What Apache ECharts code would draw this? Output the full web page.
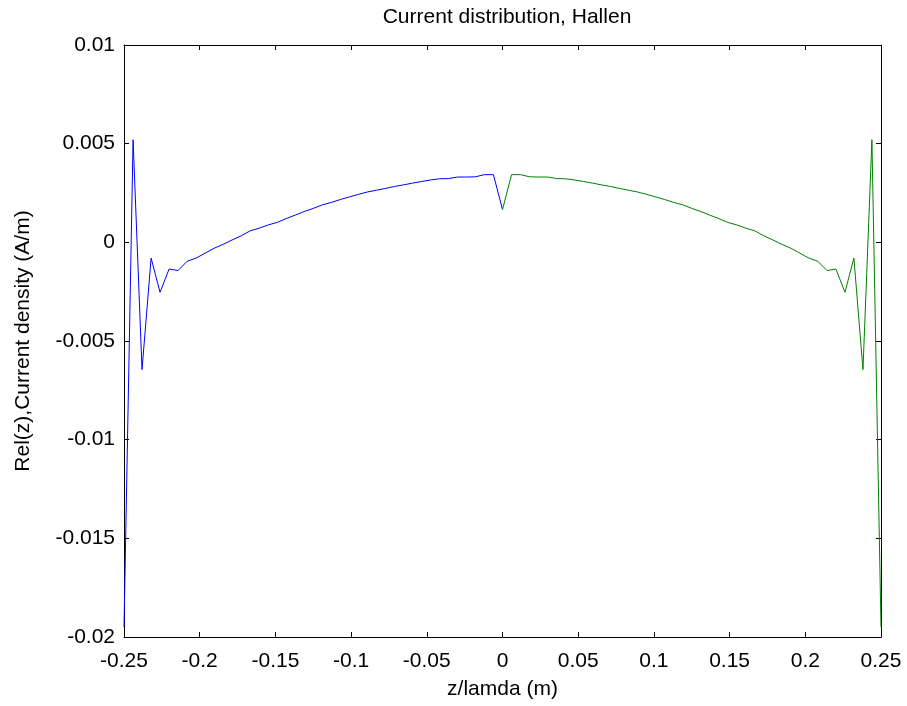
<!DOCTYPE html>
<html>
<head>
<meta charset="utf-8">
<title>Current distribution, Hallen</title>
<script src="https://cdn.jsdelivr.net/npm/echarts@6/dist/echarts.min.js"></script>
<style>
  html, body { margin: 0; padding: 0; background: #fff; }
  #chart { width: 907px; height: 706px; }
</style>
</head>
<body>
<div id="chart"></div>
<script>
// left half of the antenna (blue)
var zBlue = [-0.25, -0.2440, -0.2381, -0.2321, -0.2262, -0.2202, -0.2143, -0.2083, -0.2024, -0.1964,
  -0.1905, -0.1845, -0.1786, -0.1726, -0.1667, -0.1607, -0.1548, -0.1488, -0.1429, -0.1369,
  -0.1310, -0.1250, -0.1190, -0.1131, -0.1071, -0.1012, -0.0952, -0.0893, -0.0833, -0.0774,
  -0.0714, -0.0655, -0.0595, -0.0536, -0.0476, -0.0417, -0.0357, -0.0298, -0.0238, -0.0179,
  -0.0119, -0.0060, 0];
var currentBlue = [-0.0195, 0.0052, -0.00645, -0.0008, -0.00253, -0.00135, -0.00143, -0.00096, -0.0008, -0.00055,
  -0.0003, -0.0001, 0.00012, 0.00033, 0.00058, 0.00072, 0.00088, 0.00101, 0.0012, 0.00138,
  0.00156, 0.00172, 0.0019, 0.00202, 0.00217, 0.0023, 0.00243, 0.00255, 0.00264, 0.00273,
  0.00283, 0.00291, 0.003, 0.00308, 0.00316, 0.00322, 0.00323, 0.00331, 0.00331, 0.00332,
  0.00343, 0.00343, 0.00166];

// right half (green)
var zGreen = [0, 0.0060, 0.0119, 0.0179, 0.0238, 0.0298, 0.0357, 0.0417, 0.0476, 0.0536,
  0.0595, 0.0655, 0.0714, 0.0774, 0.0833, 0.0893, 0.0952, 0.1012, 0.1071, 0.1131,
  0.1190, 0.1250, 0.1310, 0.1369, 0.1429, 0.1488, 0.1548, 0.1607, 0.1667, 0.1726,
  0.1786, 0.1845, 0.1905, 0.1964, 0.2024, 0.2083, 0.2143, 0.2202, 0.2262, 0.2321,
  0.2381, 0.2440, 0.25];
var currentGreen = [0.00166, 0.00343, 0.00343, 0.00332, 0.00331, 0.00331, 0.00323, 0.00322, 0.00316, 0.00308,
  0.003, 0.00291, 0.00283, 0.00273, 0.00264, 0.00255, 0.00243, 0.0023, 0.00217, 0.00202,
  0.0019, 0.00172, 0.00156, 0.00138, 0.0012, 0.00101, 0.00088, 0.00072, 0.00058, 0.00033,
  0.00012, -0.0001, -0.0003, -0.00055, -0.0008, -0.00096, -0.00143, -0.00135, -0.00253, -0.0008,
  -0.00645, 0.0052, -0.0195];

function pairs(xs, ys) {
  var out = [];
  for (var i = 0; i < xs.length; i++) out.push([xs[i], ys[i]]);
  return out;
}
function fmt(v) {
  var s = String(parseFloat(v.toFixed(4)));
  return s === '-0' ? '0' : s;
}

var font = 'Liberation Sans, Arial, sans-serif';
var fs = 21;
var chart = echarts.init(document.getElementById('chart'));

var tickStyle = { show: true, inside: true, length: 5, lineStyle: { color: '#000', width: 1 } };

var option = {
  animation: false,
  backgroundColor: '#fff',
  title: {
    text: 'Current distribution, Hallen',
    left: 502, top: 2, textAlign: 'center',
    textStyle: { fontFamily: font, fontSize: fs, fontWeight: 'normal', color: '#000' }
  },
  grid: { left: 124, right: 26, top: 45, bottom: 69, containLabel: false },
  xAxis: [{
    type: 'value', min: -0.25, max: 0.25, interval: 0.05,
    name: 'z/lamda (m)', nameLocation: 'middle', nameGap: 42,
    nameTextStyle: { fontFamily: font, fontSize: fs, color: '#000' },
    axisLine: { show: true, onZero: false, lineStyle: { color: '#000', width: 1 } },
    axisTick: tickStyle,
    axisLabel: { formatter: fmt, fontFamily: font, fontSize: fs, color: '#000', margin: 14 },
    splitLine: { show: false }
  }, {
    type: 'value', position: 'top', min: -0.25, max: 0.25, interval: 0.05,
    axisLine: { show: true, onZero: false, lineStyle: { color: '#000', width: 1 } },
    axisTick: tickStyle, axisLabel: { show: false }, splitLine: { show: false }
  }],
  yAxis: [{
    type: 'value', min: -0.02, max: 0.01, interval: 0.005,
    name: 'Rel(z),Current density (A/m)', nameLocation: 'middle', nameGap: 90,
    nameTextStyle: { fontFamily: font, fontSize: fs, color: '#000' },
    axisLine: { show: true, onZero: false, lineStyle: { color: '#000', width: 1 } },
    axisTick: tickStyle,
    axisLabel: { formatter: fmt, fontFamily: font, fontSize: fs, color: '#000', margin: 9 },
    splitLine: { show: false }
  }, {
    type: 'value', position: 'right', min: -0.02, max: 0.01, interval: 0.005,
    axisLine: { show: true, onZero: false, lineStyle: { color: '#000', width: 1 } },
    axisTick: tickStyle, axisLabel: { show: false }, splitLine: { show: false }
  }],
  series: [{
    name: 'left', type: 'line', xAxisIndex: 0, yAxisIndex: 0,
    data: pairs(zBlue, currentBlue), showSymbol: false,
    lineStyle: { color: '#0000ff', width: 1 }
  }, {
    name: 'right', type: 'line', xAxisIndex: 0, yAxisIndex: 0,
    data: pairs(zGreen, currentGreen), showSymbol: false,
    lineStyle: { color: '#008000', width: 1 }
  }]
};
chart.setOption(option);
</script>
</body>
</html>
